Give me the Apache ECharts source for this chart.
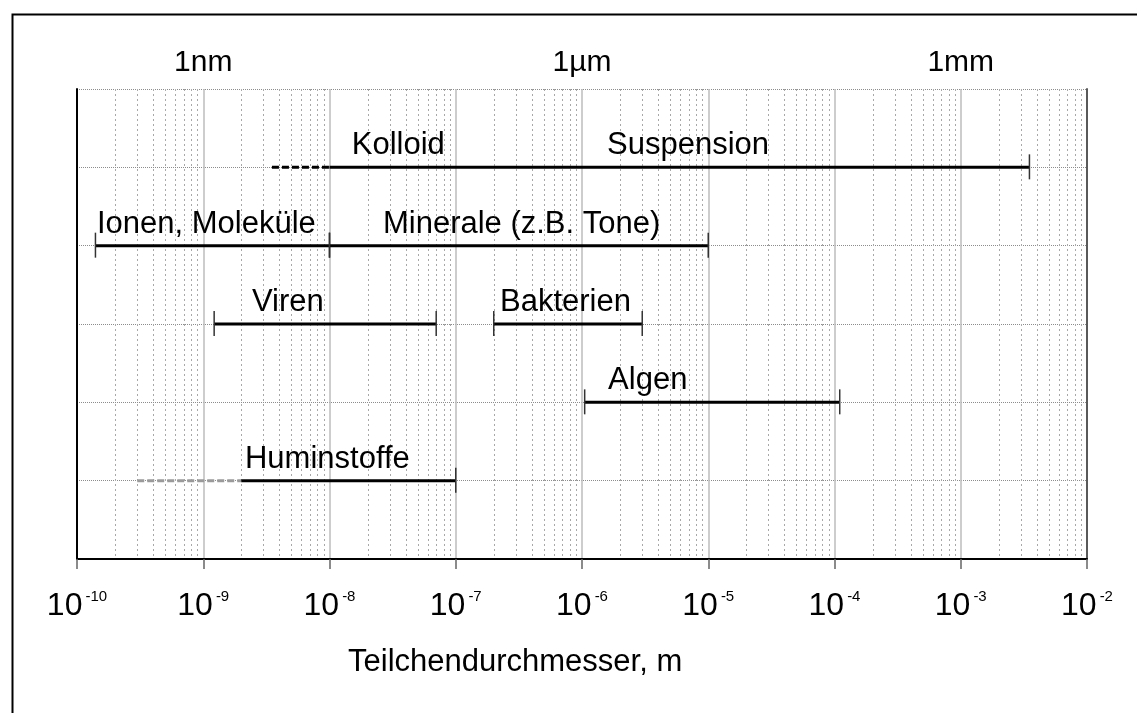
<!DOCTYPE html>
<html>
<head>
<meta charset="utf-8">
<script src="https://cdn.jsdelivr.net/npm/echarts@6/dist/echarts.min.js"></script>
<style>
  html, body { margin: 0; padding: 0; background: #fff; }
  #chart { width: 1137px; height: 713px; }
</style>
</head>
<body>
<div id="chart"></div>
<script>
// Größenbereiche (Teilchendurchmesser in m), Zeile 1 = oben
const segName = ['Kolloid (unscharf)', 'Kolloid / Suspension', 'Ionen, Moleküle', 'Minerale', 'Viren', 'Bakterien', 'Algen', 'Huminstoffe (unscharf)', 'Huminstoffe'];
const segRow  = [1, 1, 2, 2, 3, 3, 4, 5, 5];
const segFrom = [3.5e-9, 1e-8, 1.4e-10, 1e-8, 1.22e-9, 2e-7, 1.05e-6, 3e-10, 2e-9];
const segTo   = [1e-8, 3.5e-3, 1e-8, 1e-5, 7e-8, 3e-6, 1.1e-4, 2e-9, 1e-7];

// Beschriftungen, verankert am linken Textrand (Datenwert)
const labelText = ['Kolloid', 'Suspension', 'Ionen, Moleküle', 'Minerale (z.B. Tone)', 'Viren', 'Bakterien', 'Algen', 'Huminstoffe'];
const labelRow  = [1, 1, 2, 2, 3, 3, 4, 5];
const labelFrom = [1.5e-8, 1.58e-6, 1.44e-10, 2.65e-8, 2.43e-9, 2.24e-7, 1.61e-6, 2.14e-9];

const topTickExp  = [-9, -6, -3];
const topTickText = ['1nm', '1µm', '1mm'];

const font = "'Liberation Sans', Arial, sans-serif";

// Stil je Abschnitt
const segDashed = [true, false, false, false, false, false, false, true, false];
const segColor  = ['#000', '#000', '#000', '#000', '#000', '#000', '#000', '#9a9a9a', '#000'];
const capStart  = [false, false, true, true, true, true, true, false, false];
const capEnd    = [false, true, true, true, true, true, true, false, true];

// Nebenteilung 2..9 je Dekade
let minorVals = [];
for (let k = -10; k < -2; k++) {
  for (let m = 2; m <= 9; m++) minorVals.push([m * Math.pow(10, k), 0]);
}

let myChart = echarts.init(document.getElementById('chart'));

function expOf(v) {
  return Math.round(Math.log10(v));
}

let option = {
  backgroundColor: '#ffffff',
  animation: false,
  grid: { left: 77, right: 50, top: 89, bottom: 154 },
  xAxis: [
    {
      type: 'log',
      logBase: 10,
      min: 1e-10,
      max: 1e-2,
      splitNumber: 8,
      position: 'bottom',
      axisLine: { onZero: false, lineStyle: { color: '#000', width: 2 } },
      axisTick: { length: 10, lineStyle: { color: '#666', width: 1.5 } },
      splitLine: { show: true, lineStyle: { color: '#bdbdbd', width: 1.5 } },
      axisLabel: {
        margin: 30,
        formatter: function (v) {
          return '{b|10}{s|' + expOf(v) + '}';
        },
        rich: {
          b: { fontSize: 32, fontFamily: font, color: '#000', lineHeight: 34 },
          s: { fontSize: 15, fontFamily: font, color: '#000', verticalAlign: 'top', padding: [0, 0, 0, 3] }
        }
      }
    },
    {
      type: 'log',
      logBase: 10,
      min: 1e-10,
      max: 1e-2,
      splitNumber: 8,
      position: 'top',
      axisLine: { show: false, onZero: false },
      axisTick: { show: false },
      splitLine: { show: false },
      axisLabel: {
        margin: 11,
        fontSize: 30,
        fontFamily: font,
        color: '#000',
        formatter: function (v) {
          let i = topTickExp.indexOf(expOf(v));
          return i >= 0 ? topTickText[i] : '';
        }
      }
    }
  ],
  yAxis: [
    {
      type: 'value',
      min: 0,
      max: 6,
      interval: 1,
      inverse: true,
      axisLine: { show: true, onZero: false, lineStyle: { color: '#000', width: 2 } },
      axisTick: { show: false },
      axisLabel: { show: false },
      splitLine: { show: true, lineStyle: { color: '#8c8c8c', type: 'dotted', width: 1 } }
    },
    {
      type: 'value',
      min: 0,
      max: 6,
      interval: 1,
      inverse: true,
      position: 'right',
      axisLine: { show: true, onZero: false, lineStyle: { color: '#5a5a5a', width: 2 } },
      axisTick: { show: false },
      axisLabel: { show: false },
      splitLine: { show: false }
    }
  ],
  series: [
    {
      // Nebengitter
      type: 'custom',
      silent: true,
      z: 1,
      encode: { x: 0, y: 1 },
      data: minorVals,
      renderItem: function (params, api) {
        let p1 = api.coord([api.value(0), 0]);
        let p2 = api.coord([api.value(0), 6]);
        return {
          type: 'line',
          shape: { x1: Math.round(p1[0]) + 0.5, y1: p1[1], x2: Math.round(p2[0]) + 0.5, y2: p2[1] },
          style: { stroke: '#a8a8a8', lineWidth: 1, lineDash: [2, 3] }
        };
      }
    },
    {
      type: 'custom',
      silent: true,
      z: 5,
      encode: { x: [0, 1], y: 2 },
      data: segFrom.map((f, i) => [f, segTo[i], segRow[i]]),
      renderItem: function (params, api) {
        let i = params.dataIndex;
        let row = api.value(2);
        let p1 = api.coord([api.value(0), row]);
        let p2 = api.coord([api.value(1), row]);
        let children = [{
          type: 'line',
          shape: { x1: p1[0], y1: p1[1], x2: p2[0], y2: p2[1] },
          style: { stroke: segColor[i], lineWidth: 3, lineDash: segDashed[i] ? [7, 3] : null }
        }];
        if (capStart[i]) {
          children.push({ type: 'line', shape: { x1: p1[0], y1: p1[1] - 13, x2: p1[0], y2: p1[1] + 12 }, style: { stroke: '#333', lineWidth: 1.5 } });
        }
        if (capEnd[i]) {
          children.push({ type: 'line', shape: { x1: p2[0], y1: p2[1] - 13, x2: p2[0], y2: p2[1] + 12 }, style: { stroke: '#333', lineWidth: 1.5 } });
        }
        return { type: 'group', children: children };
      }
    },
    {
      type: 'custom',
      silent: true,
      z: 6,
      encode: { x: 0, y: 1 },
      data: labelFrom.map((f, i) => [f, labelRow[i]]),
      renderItem: function (params, api) {
        let p = api.coord([api.value(0), api.value(1)]);
        return {
          type: 'text',
          x: p[0],
          y: p[1] - 6,
          style: {
            text: labelText[params.dataIndex],
            font: '31px ' + font,
            fill: '#000',
            align: 'left',
            verticalAlign: 'bottom'
          }
        };
      }
    }
  ],
  graphic: [
    {
      type: 'rect',
      left: 10,
      top: 12,
      shape: { width: 1300, height: 900 },
      style: { fill: 'none', stroke: '#000', lineWidth: 2 },
      silent: true
    },
    {
      type: 'text',
      left: 348,
      top: 647,
      style: { text: 'Teilchendurchmesser, m', font: '31px ' + font, fill: '#000' },
      silent: true
    }
  ]
};

myChart.setOption(option);
window.onresize = function () {
  myChart.resize();
};
</script>
</body>
</html>
